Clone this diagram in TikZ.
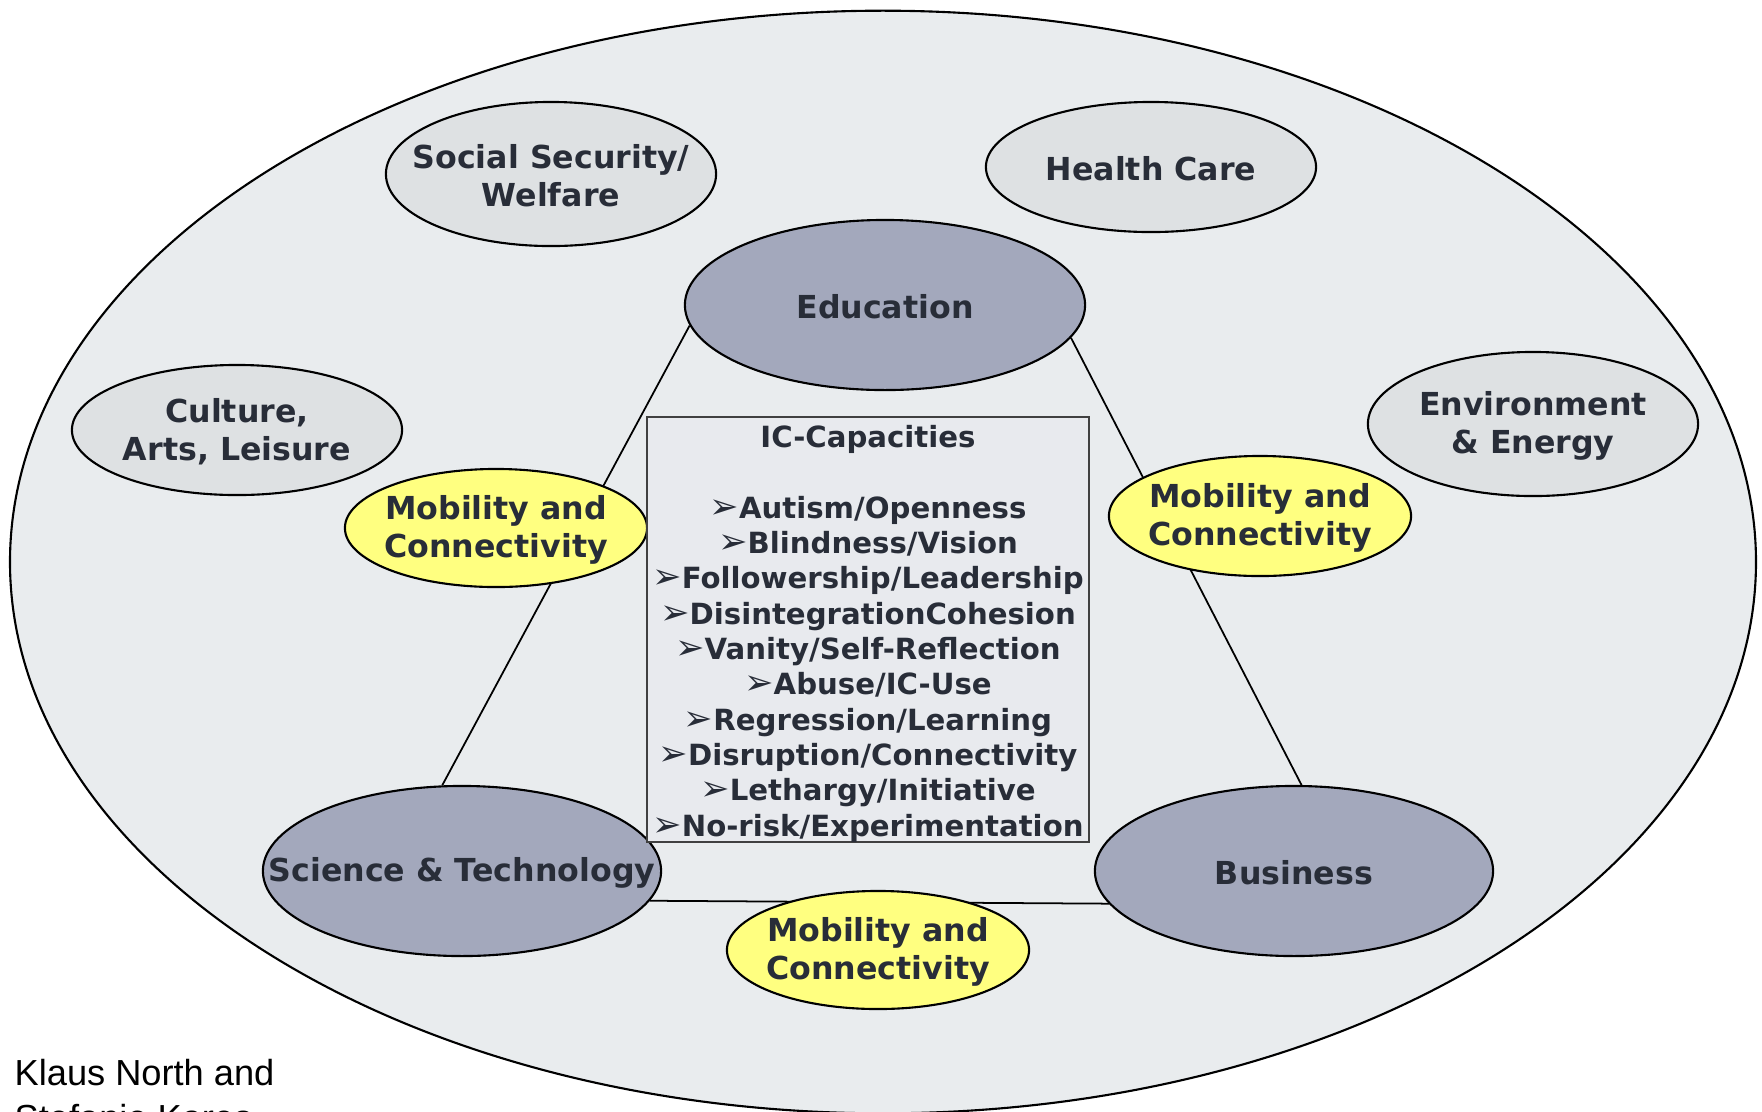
\documentclass[tikz,border=0pt]{standalone}
\usepackage{fontspec}
\usepackage{xcolor}
\usetikzlibrary{shapes.geometric}
\newfontfamily\verd{DejaVu Sans}
\newfontfamily\arialf{Liberation Sans}
\definecolor{ink}{RGB}{40,45,56}
\definecolor{outergray}{RGB}{233,236,238}
\definecolor{areagray}{RGB}{222,225,227}
\definecolor{coreblue}{RGB}{163,168,188}
\definecolor{mobyellow}{RGB}{255,255,128}
\definecolor{boxgray}{RGB}{232,234,238}
\newcommand\elfont{\verd\bfseries\fontsize{9}{10.8}\selectfont}
\newcommand\capfont{\verd\bfseries\fontsize{8.3}{10.05}\selectfont}
\newcommand\capbullet{{\verd\mdseries\fontsize{10}{10}\selectfont ➢}}
\pgfdeclarelayer{back}
\pgfdeclarelayer{mid}
\pgfsetlayers{back,mid,main}

\begin{document}
\begin{tikzpicture}[x=0.01cm,y=-0.01cm]
\tikzstyle{every node}=[text=ink]
\tikzstyle{inlbl}=[font=\elfont, align=center, text=ink, yshift=-0.5pt]
\tikzstyle{area}=[ellipse, draw, line width=0.6pt, fill=areagray, inner sep=0pt]
\tikzstyle{core}=[ellipse, draw, line width=0.6pt, fill=coreblue, inner sep=0pt, minimum width=4cm, minimum height=1.7cm]
\tikzstyle{mob}=[ellipse, draw, line width=0.6pt, fill=mobyellow, inner sep=0pt, minimum width=3.02cm, minimum height=1.18cm]
\tikzstyle{link}=[line width=0.5pt]
\useasboundingbox (0,0) rectangle (1762,1111);

% society
\begin{pgfonlayer}{back}
\fill[white] (0,0) rectangle (1762,1111);
\node[ellipse, draw, line width=0.6pt, fill=outergray, minimum width=17.45cm, minimum height=11.02cm] (world) at (883,562) {};
\end{pgfonlayer}

% fields around
\node[area, minimum width=3.3cm, minimum height=1.44cm, label={[inlbl]center:{Social Security/\\Welfare}}] (social) at (551,174) {};
\node[area, minimum width=3.3cm, minimum height=1.3cm, label={[inlbl]center:{Health Care}}] (health) at (1151,167) {};
\node[area, minimum width=3.3cm, minimum height=1.3cm, label={[inlbl]center:{Culture,\\Arts, Leisure}}] (culture) at (237,430) {};
\node[area, minimum width=3.3cm, minimum height=1.44cm, label={[inlbl]center:{Environment\\\& Energy}}] (environ) at (1533,424) {};

% triangle
\node[core, label={[inlbl]center:{Education}}] (edu) at (885,305) {};
\node[core, minimum width=3.98cm, label={[inlbl]center:{Science \& Technology}}] (sci) at (462,871) {};
\node[core, minimum width=3.98cm, label={[inlbl]center:{Business}}] (bus) at (1294,871) {};

\begin{pgfonlayer}{mid}
\draw[link] (edu.186) -- (sci.103);
\draw[link] (edu.-10) -- (bus.85);
\draw[link] (sci.-9) -- (bus.190);
\end{pgfonlayer}

\node[mob, label={[inlbl]center:{Mobility and\\Connectivity}}] (mobleft) at (496,528) {};
\node[mob, minimum height=1.2cm, label={[inlbl]center:{Mobility and\\Connectivity}}] (mobright) at (1260,516) {};
\node[mob, label={[inlbl]center:{Mobility and\\Connectivity}}] (mobbottom) at (878,950) {};

% capacities
\node[draw=black!75, line width=0.7pt, fill=boxgray, minimum width=4.42cm, minimum height=4.23cm, inner sep=0pt, font=\capfont, align=center] (caps) at (868,629.5)
{\rule{0pt}{8.7pt}IC-Capacities\\[10.05pt]
\capbullet Autism/Openness\\
\capbullet Blindness/Vision\\
\capbullet Followership/Leadership\\
\capbullet DisintegrationCohesion\\
\capbullet Vanity/Self-Reflection\\
\capbullet Abuse/IC-Use\\
\capbullet Regression/Learning\\
\capbullet Disruption/Connectivity\\
\capbullet Lethargy/Initiative\\
\capbullet No-risk/Experimentation};

\node[font=\arialf\fontsize{10.3}{12.8}\selectfont, text=black, align=left, anchor=base west, inner sep=0pt] (authors) at (14,1130) {Klaus North and\\Stefanie Kares};
\end{tikzpicture}
\end{document}
